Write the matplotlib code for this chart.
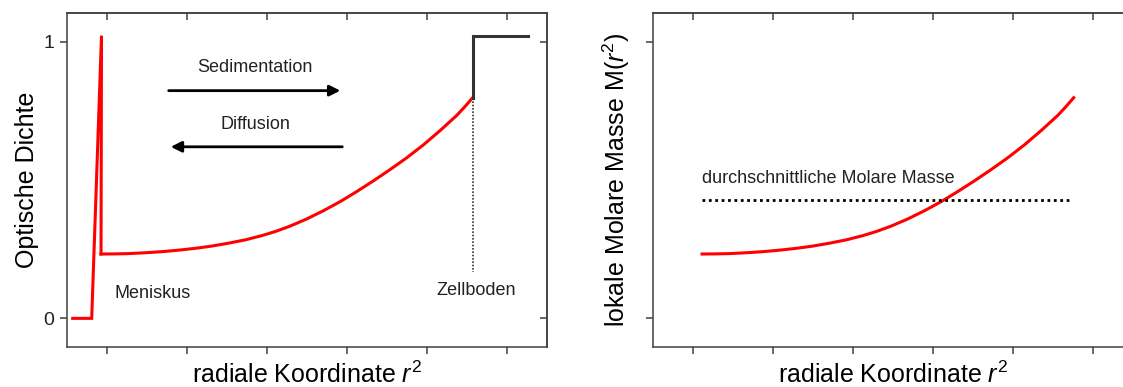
import matplotlib as mpl
import matplotlib.pyplot as plt
import numpy as np

params = {
    "font.family": "Liberation Sans",
    "mathtext.fontset": "custom",
    "mathtext.rm": "Liberation Sans",
    "mathtext.it": "Liberation Sans:italic",
    "axes.edgecolor": "#404040",
    "axes.linewidth": 1.1,
    "xtick.color": "#404040",
    "ytick.color": "#404040",
    "xtick.labelcolor": "#222222",
    "ytick.labelcolor": "#222222",
}
mpl.rcParams.update(params)

# radial position ticks (no labels) and optical density ticks
x_ticks = [0, 1, 2, 3, 4, 5]
y_ticks = [0, 1]
y_tick_labels = ["0", "1"]

# meniscus spike of the absorbance profile
spike_x = [-0.425, -0.1875, -0.065, -0.071]
spike_y = [0.0, 0.0, 1.022, 0.2325]

# concentration profile, distance from meniscus vs. value
profile_dx = [0.0, 0.17, 0.34, 0.55, 0.76, 0.97, 1.175, 1.38, 1.59, 1.80, 2.01, 2.18,
              2.36, 2.57, 2.78, 2.99, 3.195, 3.40, 3.61, 3.82, 4.03, 4.24, 4.445, 4.545, 4.646]
profile_y = [0.2325, 0.233, 0.234, 0.237, 0.241, 0.2465, 0.253, 0.261, 0.2715, 0.2835, 0.299, 0.314,
             0.333, 0.359, 0.389, 0.422, 0.458, 0.496, 0.537, 0.580, 0.627, 0.679, 0.733, 0.764, 0.7975]

meniscus_x = -0.071
start_right = 0.11

# cell bottom (black step)
bottom_x = [4.575, 4.575, 5.266]
bottom_y = [0.7975, 1.0206, 1.0206]
bottom_dot_y = [0.7975, 0.168]

# average molar mass
avg_x = [0.11, 4.73]
avg_y = [0.428, 0.428]

red = "#ff0000"


def style_axes(ax, ylabels):
    ax.set_xlim(-0.5, 5.5)
    ax.set_ylim(-0.1025, 1.1025)
    ax.set_xticks(x_ticks)
    ax.set_xticklabels([])
    ax.set_yticks(y_ticks)
    ax.set_yticklabels(ylabels, fontsize=14)
    ax.tick_params(direction="out", length=5, width=1.1, pad=4)
    top = ax.secondary_xaxis("top")
    top.set_xticks(x_ticks)
    top.set_xticklabels([])
    top.tick_params(direction="in", length=5, width=1.1)
    right = ax.secondary_yaxis("right")
    right.set_yticks(y_ticks)
    right.set_yticklabels([])
    right.tick_params(direction="in", length=5, width=1.1)
    ax.set_xlabel(r"radiale Koordinate $r^2$", fontsize=18, labelpad=2)


fig = plt.figure(figsize=(11.23, 3.87), dpi=100)
ax1 = fig.add_axes([0.0594, 0.1041, 0.4274, 0.8615])
ax2 = fig.add_axes([0.5817, 0.1041, 0.4274, 0.8615])

# left: optical density
style_axes(ax1, y_tick_labels)
ax1.set_ylabel("Optische Dichte", fontsize=18, labelpad=3)
ax1.plot(spike_x, spike_y, color=red, lw=2.2, solid_joinstyle="miter")
ax1.plot(np.array(profile_dx) + meniscus_x, profile_y, color=red, lw=2.2)
ax1.plot(bottom_x, bottom_y, color="#333333", lw=2.2, solid_joinstyle="miter")
ax1.plot([bottom_x[0], bottom_x[0]], bottom_dot_y, color="#333333", lw=1.2,
         linestyle=(0, (1, 1)))

ax1.annotate("", xy=(2.955, 0.823), xytext=(0.74, 0.823),
             arrowprops=dict(arrowstyle="-|>", color="black", lw=2, mutation_scale=16))
ax1.annotate("", xy=(0.766, 0.62), xytext=(2.98, 0.62),
             arrowprops=dict(arrowstyle="-|>", color="black", lw=2, mutation_scale=16))
ax1.text(1.855, 0.905, "Sedimentation", fontsize=13, ha="center", va="center", color="#222222")
ax1.text(1.855, 0.699, "Diffusion", fontsize=13, ha="center", va="center", color="#222222")
ax1.text(0.10, 0.0915, "Meniskus", fontsize=13, ha="left", va="center", color="#222222")
ax1.text(4.62, 0.102, "Zellboden", fontsize=13, ha="center", va="center", color="#222222")

# right: local molar mass
style_axes(ax2, ["", ""])
ax2.set_ylabel(r"lokale Molare Masse M($r^2$)", fontsize=18, labelpad=6)
ax2.plot(np.array(profile_dx) + start_right, profile_y, color=red, lw=2.2)
ax2.plot(avg_x, avg_y, color="black", lw=2.0, linestyle=(0, (1, 1.3)))
ax2.text(avg_x[0], 0.507, "durchschnittliche Molare Masse", fontsize=13,
         ha="left", va="center", color="#222222")

fig.savefig("out.png", dpi=100)
